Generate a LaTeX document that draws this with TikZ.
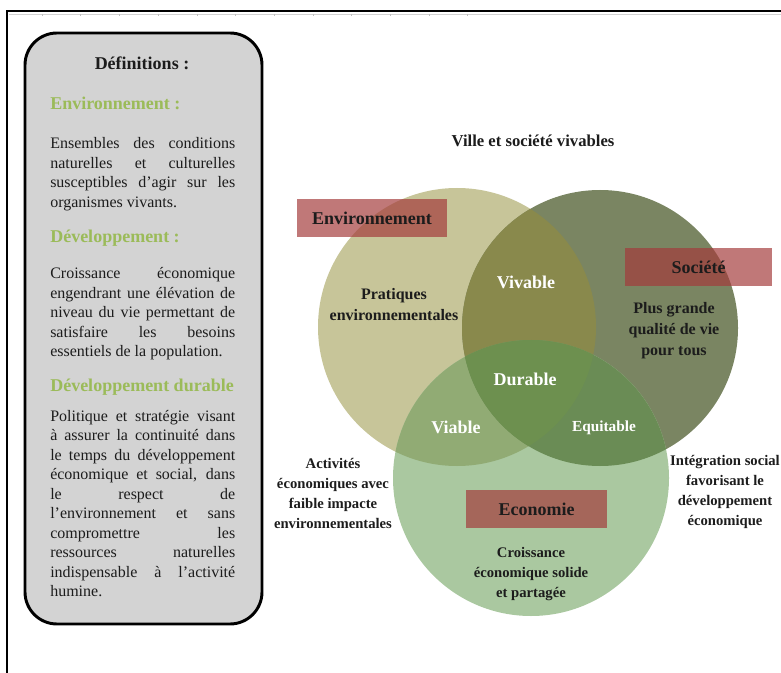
\documentclass[tikz,border=0pt]{standalone}
\usepackage{fontspec}
\setmainfont{Liberation Serif}
\definecolor{envfill}{HTML}{C7C599}
\definecolor{socfill}{HTML}{7A8562}
\definecolor{ecofill}{HTML}{AAC8A0}
\definecolor{envsoc}{HTML}{89894C}
\definecolor{enveco}{HTML}{91AB74}
\definecolor{soceco}{HTML}{6A8C55}
\definecolor{allthree}{HTML}{6D904F}
\definecolor{tagred}{RGB}{164,59,59}
\definecolor{defgreen}{HTML}{9BBB59}
\definecolor{boxgray}{HTML}{D3D3D3}
\definecolor{ink}{HTML}{1C1C1C}
\newcommand{\deftext}{\fontsize{12}{14.6}\selectfont\tolerance=10000\hbadness=10000\hyphenpenalty=10000}
\tikzset{
  tag/.style={fill=tagred, fill opacity=0.69, text opacity=1, inner sep=0pt, text=ink, font=\fontsize{13.5}{16}\selectfont\bfseries},
  zone/.style={text=white, inner sep=0.75pt, font=\fontsize{13.5}{16}\selectfont\bfseries},
  note/.style={text=ink, inner sep=0.75pt, align=center, font=\fontsize{11}{15}\selectfont\bfseries},
  defhead/.style={text=defgreen, anchor=west, inner sep=0pt, font=\fontsize{13.5}{15}\selectfont\bfseries},
  defpara/.style={text=ink, anchor=north west, inner sep=0pt, text width=138.75pt, align=justify, font=\deftext}
}
\begin{document}
\begin{tikzpicture}[x=0.75pt,y=0.75pt,yscale=-1,xscale=1]
        \useasboundingbox (0,0) rectangle (781,673);
        %Shape: Frame
        \draw [gray!35, line width=1.2pt] (9,14.5) -- (781,14.5) ;
        \draw [line width=1.5pt] (7,673) -- (7,11.5) -- (781,11.5) ;
        \foreach \t in {0,...,11}
          \draw [gray!50, line width=0.4pt] ({42+38.7*\t},14) -- ({42+38.7*\t},16.5) ;
        %Shape: Rounded Rectangle
        \draw [line width=2.2pt, fill=boxgray, rounded corners=24pt] (25,33) rectangle (262,624) ;

        % Text Node
        \draw (142,63) node [text=ink, inner sep=0pt, font=\fontsize{13.5}{15}\selectfont\bfseries] (deftitle) {Définitions :};
        % Text Node
        \draw (50,103) node [defhead] (envhead) {Environnement :};
        % Text Node
        \draw (50,137.5) node [defpara] (envdef) {Ensembles des conditions\linebreak naturelles et culturelles\linebreak susceptibles d’agir sur les\linebreak organismes vivants.};
        % Text Node
        \draw (50,238) node [defhead] (devhead) {Développement :};
        % Text Node
        \draw (50,267.5) node [defpara] (devdef) {Croissance économique\linebreak engendrant une élévation de\linebreak niveau du vie permettant de\linebreak satisfaire les besoins\linebreak essentiels de la population.};
        % Text Node
        \draw (50,387) node [defhead] (durhead) {Développement durable};
        % Text Node
        \draw (50,410) node [defpara] (durdef) {Politique et stratégie visant\linebreak à assurer la continuité dans\linebreak le temps du développement\linebreak économique et social, dans\linebreak le respect de\linebreak l’environnement et sans\linebreak compromettre les\linebreak ressources naturelles\linebreak indispensable à l’activité\linebreak humine.};

        %Shape: Circles
        \coordinate (envc) at (457,327);
        \coordinate (socc) at (600,328);
        \coordinate (ecoc) at (531,478);
        \fill [envfill] (envc) circle (139) ;
        \fill [socfill] (socc) circle (138) ;
        \fill [ecofill] (ecoc) circle (138) ;
        \begin{scope}
          \clip (envc) circle (139) ;
          \fill [envsoc] (socc) circle (138) ;
          \fill [enveco] (ecoc) circle (138) ;
        \end{scope}
        \begin{scope}
          \clip (socc) circle (138) ;
          \fill [soceco] (ecoc) circle (138) ;
          \clip (envc) circle (139) ;
          \fill [allthree] (ecoc) circle (138) ;
        \end{scope}

        % Text Node
        \draw (533,141) node [text=ink, inner sep=0.75pt, font=\fontsize{12.5}{15}\selectfont\bfseries] (title) {Ville et société vivables};
        % Text Node
        \draw (372,218) node [tag, minimum width=112.5pt, minimum height=28.5pt] (envtag) {Environnement};
        % Text Node
        \draw (698.5,267) node [tag, minimum width=110.25pt, minimum height=28.5pt] (soctag) {Société};
        % Text Node
        \draw (536.5,509) node [tag, minimum width=105.75pt, minimum height=28.5pt] (ecotag) {Economie};
        % Text Node
        \draw (526,282) node [zone] (vivable) {Vivable};
        % Text Node
        \draw (525,379) node [zone] (durable) {Durable};
        % Text Node
        \draw (456,427) node [zone] (viable) {Viable};
        % Text Node
        \draw (604,428) node [zone, font=\fontsize{11.5}{14}\selectfont\bfseries] (equitable) {Equitable};
        % Text Node
        \draw (394,305) node [note, font=\fontsize{12}{15.75}\selectfont\bfseries] (envnote) {Pratiques\\environnementales};
        % Text Node
        \draw (674,331) node [note, font=\fontsize{12}{15.75}\selectfont\bfseries] (socnote) {Plus grande\\qualité de vie\\pour tous};
        % Text Node
        \draw (531,574) node [note] (econote) {Croissance\\économique solide\\et partagée};
        % Text Node
        \draw (333,493) node [note] (leftnote) {Activités\\économiques avec\\faible impacte\\environnementales};
        % Text Node
        \draw (725,492) node [note] (rightnote) {Intégration social\\favorisant le\\développement\\économique};
    \end{tikzpicture}
\end{document}
